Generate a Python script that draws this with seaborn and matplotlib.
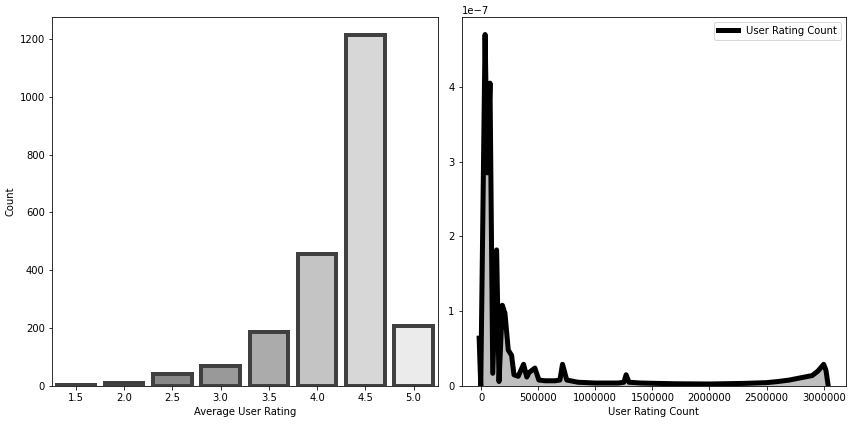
import numpy as np
import matplotlib
matplotlib.use("Agg")
import matplotlib.pyplot as plt
import seaborn as sns

# Left panel: counts per average user rating
ratings = ["1.5", "2.0", "2.5", "3.0", "3.5", "4.0", "4.5", "5.0"]
counts = [5, 12, 43, 70, 185, 457, 1215, 208]
bar_colors = ["#2e2e2e", "#202020", "#888888", "#999999",
              "#ababab", "#c4c4c4", "#d7d7d7", "#ebebeb"]

# Right panel: density curve of user rating count (units 1e-7)
count_x = [-17000, -3000, 35000, 55000, 78000, 102000, 136000, 157000, 186000,
           209000, 238000, 267000, 288000, 325000, 372000, 400000, 420000,
           471000, 506000, 560000, 650000, 690000, 713000, 750000, 850000,
           1000000, 1200000, 1250000, 1270000, 1295000, 1400000, 1700000,
           2000000, 2300000, 2500000, 2600000, 2700000, 2800000, 2900000,
           2950000, 3000000, 3020000, 3040000]
count_density = [0.64, 0.0, 4.70, 2.85, 4.05, 0.17, 1.82, 0.06, 1.08,
                 0.97, 0.48, 0.41, 0.15, 0.13, 0.29, 0.12, 0.18,
                 0.24, 0.08, 0.07, 0.07, 0.08, 0.29, 0.08, 0.05,
                 0.04, 0.04, 0.05, 0.15, 0.05, 0.04, 0.03,
                 0.027, 0.035, 0.045, 0.06, 0.08, 0.11, 0.14,
                 0.20, 0.29, 0.21, 0.0]

dpi = 72
fig, (ax1, ax2) = plt.subplots(1, 2, figsize=(852 / dpi, 424 / dpi), dpi=dpi)
bottom, top = 0.0896, 0.96
ax1.set_position([0.0607, bottom, 0.5137 - 0.0607, top - bottom])
ax2.set_position([0.5419, bottom, 0.9926 - 0.5419, top - bottom])

sns.barplot(x=ratings, y=counts, hue=ratings, palette=bar_colors, legend=False,
            edgecolor="#404040", linewidth=4, ax=ax1)
ax1.set_xlabel("Average User Rating")
ax1.set_ylabel("Count")

y_vals = np.array(count_density) * 1e-7
sns.lineplot(x=count_x, y=y_vals, color="black", linewidth=5,
             label="User Rating Count", estimator=None, ax=ax2)
ax2.fill_between(count_x, y_vals, color="black", alpha=0.25, linewidth=0)
ax2.set_ylim(0, None)
ax2.ticklabel_format(style="plain", axis="x")
ax2.set_xlabel("User Rating Count")
ax2.set_ylabel("")
ax2.legend(loc="upper right")

fig.savefig("out.png", dpi=dpi)
